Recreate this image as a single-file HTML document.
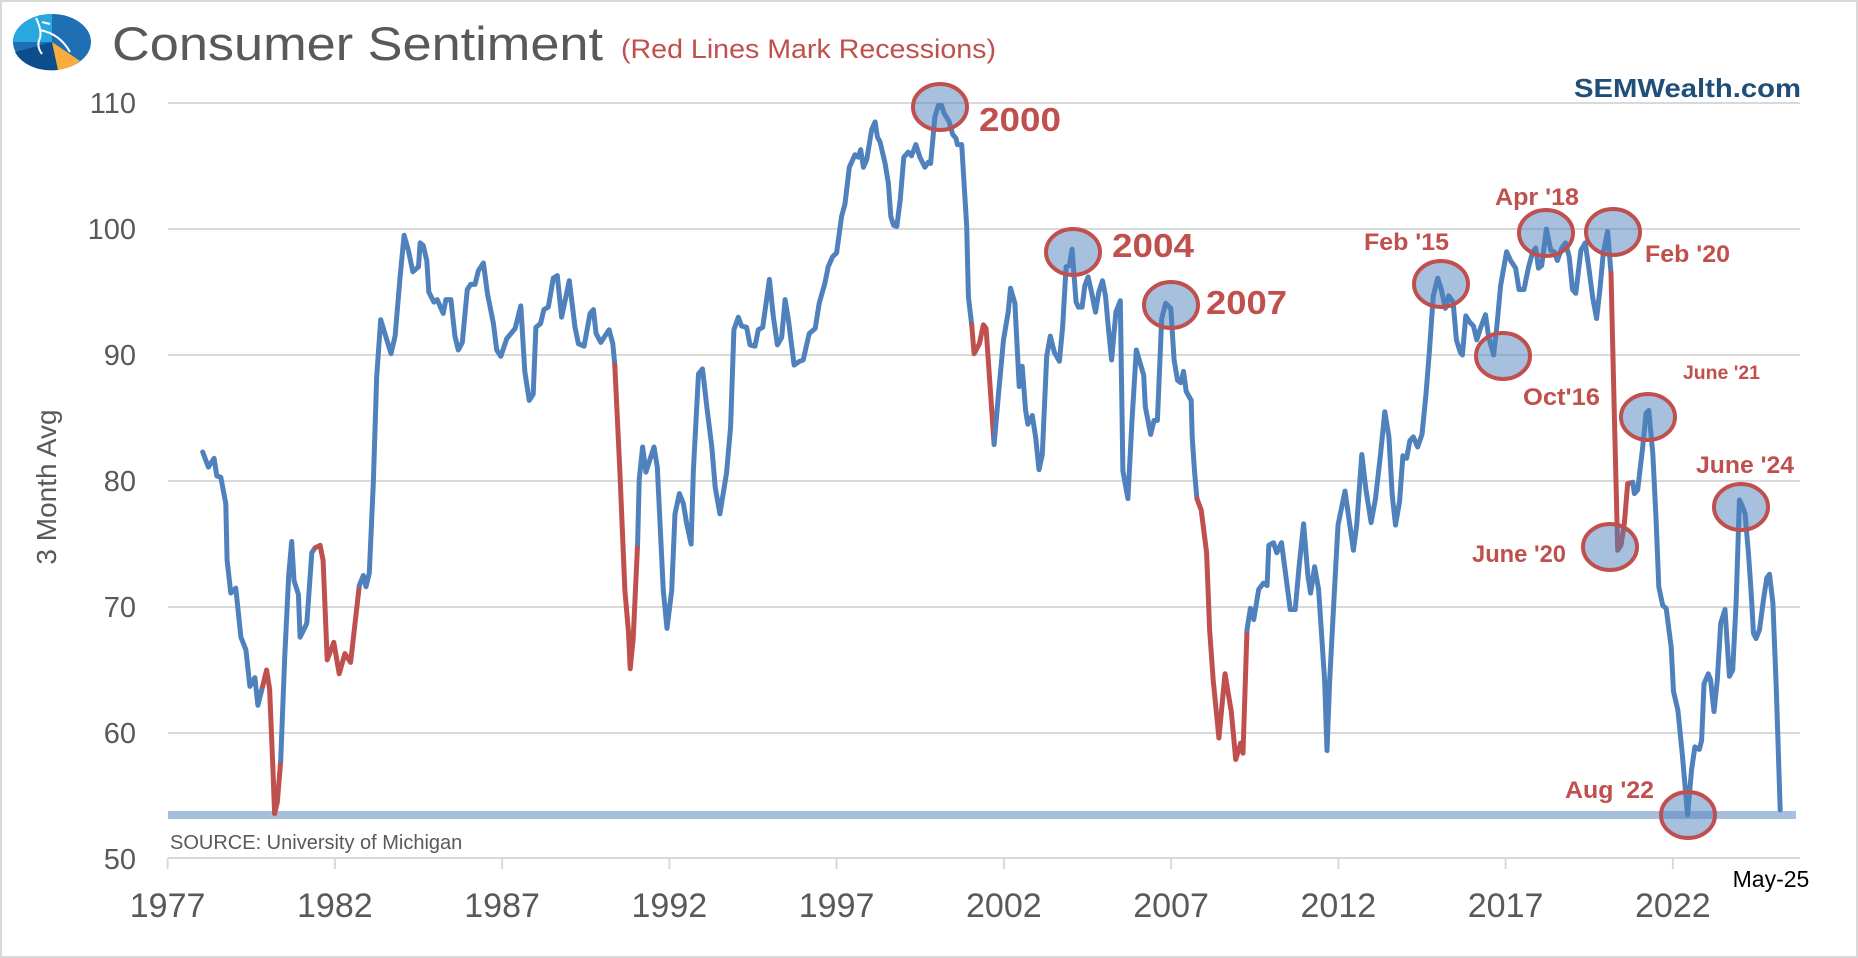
<!DOCTYPE html>
<html><head><meta charset="utf-8"><style>
html,body{margin:0;padding:0;background:#fff;}
svg{display:block;font-family:"Liberation Sans",sans-serif;}
</style></head><body>
<svg id="chart" width="1858" height="958" viewBox="0 0 1858 958" xmlns="http://www.w3.org/2000/svg">
<rect x="1" y="1" width="1856" height="956" fill="#fff" stroke="#d9d9d9" stroke-width="2"/>
<g>
 <ellipse cx="52" cy="42" rx="39" ry="28" fill="#1f6fb5"/>
 <path d="M52 42 L13 42 A39 28 0 0 1 52 14 Z" fill="#29a8e0"/>
 <path d="M52 42 L15 52 A39 28 0 0 0 58 70 Z" fill="#0e4d8c"/>
 <path d="M52 42 L58 70 A39 28 0 0 0 80 61 Z" fill="#f8ad3d"/>
 <path d="M36 18 Q42 30 40 38 Q36 46 42 54 M40 30 Q60 34 70 52 M42 22 L50 24" stroke="#fff" stroke-width="2" fill="none"/>
</g>
<text x="112" y="60" font-size="47" fill="#595959" textLength="491" lengthAdjust="spacingAndGlyphs">Consumer Sentiment</text>
<text x="621" y="58" font-size="27" fill="#c0504d" textLength="375" lengthAdjust="spacingAndGlyphs">(Red Lines Mark Recessions)</text>
<text x="1801" y="97" font-size="26" font-weight="bold" fill="#1f4e79" text-anchor="end" textLength="227" lengthAdjust="spacingAndGlyphs">SEMWealth.com</text>
<text transform="translate(56,487) rotate(-90)" font-size="28" fill="#595959" text-anchor="middle">3 Month Avg</text>
<g id="grid"></g>
<g id="axes"></g>
<rect x="168" y="811" width="1628" height="8" fill="#a7bfde"/>
<text x="170" y="849" font-size="20" fill="#595959">SOURCE:  University of Michigan</text>
<g id="series"></g>
<g id="annotations"></g>
<text x="1771" y="887" font-size="23" fill="#000" text-anchor="middle">May-25</text>
</svg>
<script>
const years = [1978.05,1978.22,1978.39,1978.47,1978.59,1978.74,1978.78,1978.89,1979.04,1979.19,1979.34,1979.46,1979.61,1979.7,1979.84,1979.96,1980.05,1980.15,1980.2,1980.28,1980.38,1980.5,1980.62,1980.71,1980.78,1980.91,1980.96,1981.16,1981.31,1981.41,1981.56,1981.65,1981.77,1981.97,1982.13,1982.3,1982.47,1982.73,1982.85,1982.93,1983.03,1983.15,1983.25,1983.37,1983.68,1983.8,1983.95,1984.07,1984.2,1984.33,1984.5,1984.55,1984.64,1984.75,1984.81,1984.96,1985.06,1985.24,1985.32,1985.47,1985.59,1985.69,1985.81,1985.96,1986.06,1986.19,1986.29,1986.44,1986.56,1986.74,1986.84,1986.96,1987.14,1987.39,1987.56,1987.68,1987.81,1987.93,1988.01,1988.15,1988.25,1988.38,1988.53,1988.65,1988.78,1989.01,1989.18,1989.28,1989.45,1989.63,1989.73,1989.81,1989.95,1990.2,1990.31,1990.37,1990.52,1990.67,1990.78,1990.83,1990.92,1991.05,1991.1,1991.2,1991.3,1991.42,1991.54,1991.64,1991.82,1991.93,1992.07,1992.17,1992.3,1992.42,1992.52,1992.65,1992.72,1992.87,1992.99,1993.12,1993.27,1993.37,1993.51,1993.71,1993.83,1993.93,1994.06,1994.16,1994.31,1994.41,1994.56,1994.66,1994.79,1994.99,1995.11,1995.23,1995.36,1995.46,1995.56,1995.73,1995.89,1996.0,1996.18,1996.36,1996.48,1996.65,1996.75,1996.88,1997.0,1997.15,1997.25,1997.38,1997.55,1997.65,1997.72,1997.8,1997.9,1998.05,1998.15,1998.22,1998.3,1998.45,1998.55,1998.62,1998.7,1998.8,1998.9,1999.01,1999.14,1999.24,1999.37,1999.49,1999.64,1999.74,1999.81,1999.94,2000.04,2000.14,2000.21,2000.37,2000.47,2000.57,2000.61,2000.74,2000.89,2000.94,2001.04,2001.11,2001.27,2001.39,2001.47,2001.71,2001.84,2001.99,2002.13,2002.2,2002.33,2002.46,2002.55,2002.65,2002.72,2002.85,2002.95,2003.05,2003.15,2003.28,2003.39,2003.51,2003.66,2003.76,2003.86,2003.96,2004.04,2004.16,2004.23,2004.34,2004.42,2004.52,2004.62,2004.74,2004.84,2004.95,2005.04,2005.12,2005.22,2005.35,2005.48,2005.56,2005.71,2005.83,2005.96,2006.18,2006.23,2006.39,2006.49,2006.59,2006.72,2006.84,2006.99,2007.09,2007.19,2007.29,2007.37,2007.45,2007.6,2007.63,2007.7,2007.77,2007.9,2008.06,2008.15,2008.26,2008.43,2008.61,2008.8,2008.93,2009.08,2009.15,2009.27,2009.37,2009.47,2009.62,2009.76,2009.87,2009.92,2010.06,2010.16,2010.3,2010.43,2010.56,2010.71,2010.83,2010.96,2011.09,2011.17,2011.29,2011.41,2011.59,2011.66,2011.74,2011.89,2011.99,2012.2,2012.3,2012.45,2012.55,2012.7,2012.82,2012.98,2013.11,2013.26,2013.39,2013.51,2013.61,2013.71,2013.83,2013.93,2014.04,2014.14,2014.24,2014.37,2014.5,2014.62,2014.72,2014.84,2014.97,2015.07,2015.2,2015.3,2015.43,2015.53,2015.65,2015.71,2015.81,2015.93,2016.04,2016.14,2016.26,2016.4,2016.49,2016.64,2016.74,2016.85,2017.03,2017.15,2017.3,2017.4,2017.55,2017.68,2017.8,2017.9,2017.98,2018.08,2018.22,2018.35,2018.45,2018.55,2018.68,2018.79,2018.9,2019.0,2019.1,2019.25,2019.38,2019.5,2019.6,2019.72,2019.82,2019.92,2020.05,2020.15,2020.25,2020.35,2020.45,2020.55,2020.65,2020.8,2020.85,2020.95,2021.1,2021.2,2021.28,2021.4,2021.5,2021.58,2021.7,2021.8,2021.95,2022.02,2022.15,2022.28,2022.44,2022.56,2022.66,2022.79,2022.86,2022.93,2023.06,2023.13,2023.23,2023.33,2023.43,2023.56,2023.69,2023.79,2023.89,2023.99,2024.06,2024.16,2024.26,2024.33,2024.41,2024.49,2024.59,2024.71,2024.81,2024.89,2024.99,2025.09,2025.21];
const values = [82.3,81.1,81.8,80.4,80.3,78.2,73.7,71.1,71.5,67.6,66.6,63.7,64.4,62.2,63.7,65.0,63.5,57.0,53.6,54.5,57.8,66.0,72.5,75.2,72.1,71.0,67.6,68.7,74.3,74.7,74.9,73.7,65.8,67.2,64.7,66.3,65.6,71.7,72.5,71.6,72.7,79.8,88.3,92.8,90.1,91.5,96.2,99.5,98.3,96.6,97.0,98.9,98.7,97.5,95.0,94.2,94.4,93.3,94.4,94.4,91.5,90.4,91.0,95.2,95.6,95.6,96.7,97.3,94.9,92.5,90.4,89.9,91.3,92.1,93.9,88.7,86.4,86.9,92.2,92.5,93.6,93.8,96.1,96.3,93.0,95.9,92.2,90.9,90.7,93.3,93.6,91.7,91.0,92.0,90.9,89.2,80.9,71.3,68.0,65.1,67.5,75.0,80.1,82.7,80.7,81.7,82.7,81.1,71.3,68.3,71.3,77.4,79.0,78.2,76.6,75.0,80.9,88.5,88.9,85.9,82.7,79.5,77.4,80.6,84.3,92.0,93.0,92.3,92.2,90.8,90.7,92.0,92.2,96.0,93.0,90.8,91.4,94.4,92.8,89.2,89.5,89.6,91.7,92.1,94.1,95.7,97.0,97.8,98.1,101.0,102.0,104.9,105.9,105.7,106.3,104.9,105.5,107.9,108.5,107.3,106.9,105.2,103.6,101.0,100.3,100.2,102.3,105.7,106.1,105.8,106.7,105.7,104.9,105.3,105.2,108.9,109.8,109.8,109.2,108.5,107.5,107.2,106.7,106.7,100.2,94.6,92.4,90.1,90.9,92.4,92.1,82.9,86.9,91.2,93.4,95.3,94.1,87.5,89.1,85.6,84.5,85.2,83.5,80.9,82.1,89.9,91.5,90.2,89.5,92.3,97.0,97.1,98.4,94.2,93.8,93.8,95.5,96.2,95.0,93.4,95.0,95.9,94.7,92.3,89.6,93.4,94.3,80.8,78.6,84.8,90.4,88.4,85.9,83.7,84.8,84.8,92.9,94.1,93.7,89.6,88.0,87.8,88.7,87.1,86.4,83.5,80.8,78.6,77.7,74.3,68.2,64.2,59.6,64.7,61.7,57.9,59.2,58.4,68.2,69.9,69.0,71.4,71.9,71.7,74.9,75.1,74.3,75.1,72.5,69.8,69.8,73.3,76.6,72.5,71.1,73.2,71.4,64.2,58.6,64.2,71.7,76.5,79.2,77.3,74.5,76.5,82.1,79.4,76.7,78.6,82.1,85.5,83.5,78.9,76.5,78.4,82.0,81.8,83.2,83.5,82.7,83.7,86.9,90.2,94.7,96.1,95.3,93.7,94.7,94.2,91.2,90.2,90.0,93.1,92.6,92.3,91.2,92.2,93.2,91.5,90.0,92.3,95.5,98.2,97.5,96.9,95.2,95.2,96.9,98.1,98.5,96.9,97.1,100.0,98.3,98.2,97.5,98.5,98.9,97.8,95.2,94.9,98.3,98.9,96.7,94.6,92.9,95.2,98.1,99.8,96.5,85.4,74.5,74.9,76.6,79.8,79.9,79.0,79.3,82.7,85.4,85.6,82.2,76.9,71.6,70.1,69.9,66.8,63.3,61.8,58.4,53.5,57.1,58.9,58.7,59.4,63.9,64.7,64.2,61.7,64.2,68.7,69.8,64.5,65.0,70.3,78.5,78.1,77.4,74.3,71.6,67.9,67.5,68.2,70.6,72.3,72.6,70.3,63.7,53.9];
const recStart = [1979.84,1981.41,1990.37,2001.04,2007.77,2020.15];
const recEnd = [1980.38,1982.73,1991.05,2001.71,2009.27,2020.8];
const yTicks = [50,60,70,80,90,100,110];
const xTickYears = [1977,1982,1987,1992,1997,2002,2007,2012,2017,2022];
const xTickLabels = ["1977","1982","1987","1992","1997","2002","2007","2012","2017","2022"];

const NS = "http://www.w3.org/2000/svg";
function xOf(yr){ return 167.6 + (yr - 1977) * 33.45; }
function yOf(v){ return 859 - (v - 50) * 12.6; }
function mk(tag, attrs, parent){ const e = document.createElementNS(NS, tag); for (const k in attrs) e.setAttribute(k, attrs[k]); parent.appendChild(e); return e; }

const grid = document.getElementById('grid');
yTicks.forEach(v => {
  if (v > 50) {
    const g = mk('line', {x1:168, x2:1800, y1:yOf(v), y2:yOf(v), stroke:'#d9d9d9', 'stroke-width':2}, grid);
    
    
  }
  const t = mk('text', {x:136, y:yOf(v) + 10, 'font-size':29, fill:'#595959', 'text-anchor':'end'}, grid);
  t.textContent = v;
  
  
});
const axes = document.getElementById('axes');
const ax = mk('line', {x1:168, x2:1800, y1:858, y2:858, stroke:'#d9d9d9', 'stroke-width':2}, axes);


xTickYears.forEach((yr, i) => {
  const x = xOf(yr);
  const tk = mk('line', {x1:x, x2:x, y1:858, y2:869, stroke:'#d9d9d9', 'stroke-width':2}, axes);
  
  
  const t = mk('text', {x:x, y:917, 'font-size':34, fill:'#595959', 'text-anchor':'middle'}, axes);
  t.textContent = xTickLabels[i];
  
  
});

function inRec(y){ for (let i = 0; i < recStart.length; i++) if (y >= recStart[i] - 1e-6 && y <= recEnd[i] + 1e-6) return true; return false; }
const series = document.getElementById('series');
let segs = []; let cur = null;
for (let i = 0; i < years.length - 1; i++) {
  const red = inRec(years[i]) && inRec(years[i+1]);
  if (!cur || cur.red !== red) { cur = {red: red, pts: [[years[i], values[i]]]}; segs.push(cur); }
  cur.pts.push([years[i+1], values[i+1]]);
}
segs.forEach((s, k) => {
  const p = mk('polyline', {points: s.pts.map(q => xOf(q[0]).toFixed(1) + ',' + yOf(q[1]).toFixed(1)).join(' '), fill:'none', stroke: s.red ? '#c0504d' : '#4f81bd', 'stroke-width':5, 'stroke-linejoin':'round', 'stroke-linecap':'round'}, series);
  
  
});

const ann = document.getElementById('annotations');
const circles = [[940,107,'circle-2000'],[1073,252,'circle-2004'],[1171,305,'circle-2007'],[1441,284,'circle-feb-15'],[1503,356,'circle-oct-16'],[1546,233,'circle-apr-18'],[1613,232,'circle-feb-20'],[1610,547,'circle-june-20'],[1648,417,'circle-june-21'],[1688,815,'circle-aug-22'],[1741,507,'circle-june-24']];
circles.forEach(c => {
  const e = mk('ellipse', {cx:c[0], cy:c[1], rx:27, ry:23, fill:'rgba(79,129,189,0.5)', stroke:'#c0504d', 'stroke-width':4}, ann);
  
  
});
const labels = [[979,131,'2000',33,82,'label-2000'],[1112,257,'2004',33,82,'label-2004'],[1206,314,'2007',33,81,'label-2007'],[1364,250,"Feb '15",24,85,'label-feb-15'],[1523,405,"Oct'16",24,77,'label-oct-16'],[1495,205,"Apr '18",24,84,'label-apr-18'],[1645,262,"Feb '20",24,85,'label-feb-20'],[1472,562,"June '20",24,94,'label-june-20'],[1683,379,"June '21",19,77,'label-june-21'],[1565,798,"Aug '22",24,89,'label-aug-22'],[1696,473,"June '24",24,98,'label-june-24']];
labels.forEach(l => {
  const t = mk('text', {x:l[0], y:l[1], 'font-size':l[3], 'font-weight':'bold', fill:'#c0504d', textLength:l[4], lengthAdjust:'spacingAndGlyphs'}, ann);
  t.textContent = l[2];
  
  
});
</script>
</body></html>
